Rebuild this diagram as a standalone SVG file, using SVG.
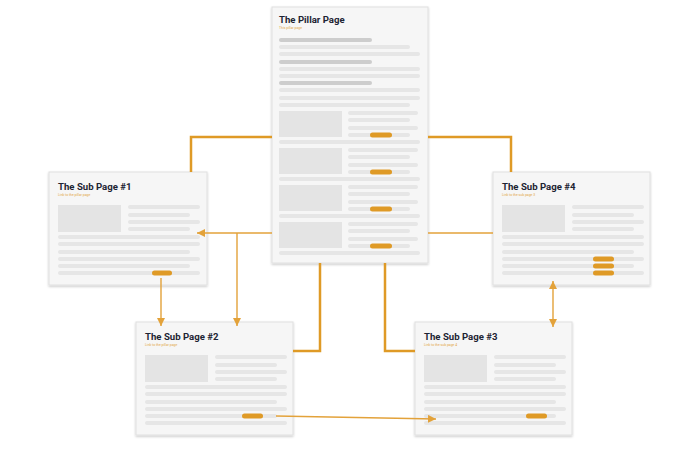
<svg xmlns="http://www.w3.org/2000/svg" width="700" height="460" viewBox="0 0 700 460">
<style>
.card{fill:#f6f6f6;stroke:#e0e0e0;stroke-width:1}
.bar{fill:#e6e6e6}
.dbar{fill:#cdcdcd}
.img{fill:#e4e4e4}
.pill{fill:#df9a26}
.title{font-family:Roboto,"Liberation Sans",sans-serif;font-weight:bold;font-size:9.6px;fill:#1d2433}
.sub{font-family:Roboto,"Liberation Sans",sans-serif;font-size:3.4px;fill:#e3a645}
.thick{fill:none;stroke:#df9a26;stroke-width:2.5}
.thin{fill:none;stroke:#e3a23a;stroke-width:1.4}
</style>
<defs>
<filter id="sh" x="-10%" y="-10%" width="120%" height="120%">
<feDropShadow dx="0" dy="1.2" stdDeviation="1.3" flood-color="#000" flood-opacity="0.22"/>
</filter>
<marker id="ah" markerUnits="userSpaceOnUse" markerWidth="10" markerHeight="10" refX="8" refY="4" orient="auto-start-reverse">
<path d="M0,0 L8,4 L0,8 Z" fill="#e3a23a"/>
</marker>
<g id="subbody">
<rect class="img" x="9" y="33" width="63" height="27"/>
<rect class="bar" x="79" y="33" width="72" height="4" rx="2"/>
<rect class="bar" x="79" y="41" width="62" height="4" rx="2"/>
<rect class="bar" x="79" y="48" width="72" height="4" rx="2"/>
<rect class="bar" x="79" y="55" width="62" height="4" rx="2"/>
<rect class="bar" x="9" y="63" width="142" height="4" rx="2"/>
<rect class="bar" x="9" y="70" width="142" height="4" rx="2"/>
<rect class="bar" x="9" y="78" width="132" height="4" rx="2"/>
<rect class="bar" x="9" y="85" width="142" height="4" rx="2"/>
<rect class="bar" x="9" y="92" width="132" height="4" rx="2"/>
<rect class="bar" x="9" y="99" width="142" height="4" rx="2"/>
</g>
<g id="pblock">
<rect class="img" x="7" y="0" width="63" height="26"/>
<rect class="bar" x="76" y="0" width="70" height="4" rx="2"/>
<rect class="bar" x="76" y="7" width="62" height="4" rx="2"/>
<rect class="bar" x="76" y="15" width="70" height="4" rx="2"/>
<rect class="bar" x="76" y="22" width="62" height="4" rx="2"/>
<rect class="pill" x="98" y="21.5" width="22" height="5" rx="2.5"/>
<rect class="bar" x="7" y="29" width="141" height="4" rx="2"/>
</g>
</defs>

<g id="pillar" transform="translate(272,7)">
<rect class="card" x="0" y="0" width="156" height="256" filter="url(#sh)"/>
<text class="title" x="7" y="16">The Pillar Page</text>
<text class="sub" x="7" y="22">This pillar page</text>
<rect class="dbar" x="7" y="31" width="93" height="4" rx="2"/>
<rect class="bar" x="7" y="38" width="131" height="4" rx="2"/>
<rect class="bar" x="7" y="45" width="141" height="4" rx="2"/>
<rect class="dbar" x="7" y="53" width="93" height="4" rx="2"/>
<rect class="bar" x="7" y="60" width="141" height="4" rx="2"/>
<rect class="bar" x="7" y="67" width="141" height="4" rx="2"/>
<rect class="dbar" x="7" y="74" width="93" height="4" rx="2"/>
<rect class="bar" x="7" y="81" width="141" height="4" rx="2"/>
<rect class="bar" x="7" y="89" width="141" height="4" rx="2"/>
<rect class="bar" x="7" y="96" width="131" height="4" rx="2"/>
<use href="#pblock" x="0" y="104"/>
<use href="#pblock" x="0" y="141"/>
<use href="#pblock" x="0" y="178"/>
<use href="#pblock" x="0" y="215"/>
</g>

<g id="sub1" transform="translate(49,172)">
<rect class="card" x="0" y="0" width="158" height="113" filter="url(#sh)"/>
<text class="title" x="9" y="18">The Sub Page #1</text>
<text class="sub" x="9" y="23.5">Link to the pillar page</text>
<use href="#subbody"/>
<rect class="pill" x="103" y="98.5" width="20" height="5" rx="2.5"/>
</g>

<g id="sub4" transform="translate(493,172)">
<rect class="card" x="0" y="0" width="157" height="113" filter="url(#sh)"/>
<text class="title" x="9" y="18">The Sub Page #4</text>
<text class="sub" x="9" y="23.5">Link to the sub page 3</text>
<use href="#subbody"/>
<rect class="pill" x="100" y="84.5" width="21" height="5" rx="2.5"/>
<rect class="pill" x="100" y="91.5" width="21" height="5" rx="2.5"/>
<rect class="pill" x="100" y="98.5" width="21" height="5" rx="2.5"/>
</g>

<g id="sub2" transform="translate(136,322)">
<rect class="card" x="0" y="0" width="157" height="113" filter="url(#sh)"/>
<text class="title" x="9" y="18">The Sub Page #2</text>
<text class="sub" x="9" y="23.5">Link to the pillar page</text>
<use href="#subbody"/>
<rect class="pill" x="106" y="91.5" width="21" height="5" rx="2.5"/>
</g>

<g id="sub3" transform="translate(415,322)">
<rect class="card" x="0" y="0" width="157" height="113" filter="url(#sh)"/>
<text class="title" x="9" y="18">The Sub Page #3</text>
<text class="sub" x="9" y="23.5">Link to the sub page 4</text>
<use href="#subbody"/>
<rect class="pill" x="111" y="91.5" width="21" height="5" rx="2.5"/>
</g>

<g id="connectors">
<path class="thick" d="M272,137 H191 V172"/>
<path class="thick" d="M428,137 H511 V172"/>
<path class="thick" d="M320,263 V351 H293"/>
<path class="thick" d="M385,263 V351 H415"/>
<path class="thin" d="M272,233 H197" marker-end="url(#ah)"/>
<path class="thin" d="M237,233 V326" marker-end="url(#ah)"/>
<path class="thin" d="M428,233 H493"/>
<path class="thin" d="M161,278 V326" marker-end="url(#ah)"/>
<path class="thin" d="M553,281 V327" marker-start="url(#ah)" marker-end="url(#ah)"/>
<path class="thin" d="M276,416 L436,419" marker-end="url(#ah)"/>
</g>
</svg>
